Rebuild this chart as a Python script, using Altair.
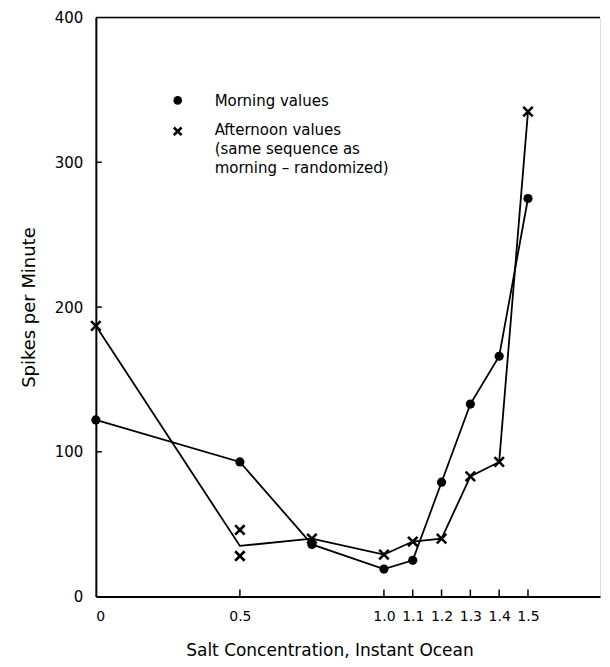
import altair as alt
import pandas as pd

# ---- data ----
x_morning = [0, 0.5, 0.75, 1.0, 1.1, 1.2, 1.3, 1.4, 1.5]
morning = [122, 93, 36, 19, 25, 79, 133, 166, 275]

x_aft_pts = [0, 0.5, 0.5, 0.75, 1.0, 1.1, 1.2, 1.3, 1.4, 1.5]
aft_pts = [187, 46, 28, 40, 29, 38, 40, 83, 93, 335]

x_aft_line = [0, 0.5, 0.75, 1.0, 1.1, 1.2, 1.3, 1.4, 1.5]
aft_line = [187, 35, 40, 29, 38, 40, 83, 93, 335]

x_tick_values = [0, 0.5, 1.0, 1.1, 1.2, 1.3, 1.4, 1.5]
y_tick_values = [0, 100, 200, 300, 400]

x_title = "Salt Concentration,  Instant Ocean"
y_title = "Spikes  per  Minute"
legend_morning = "Morning values"
legend_afternoon = "Afternoon values\n(same sequence as\n morning – randomized)"

# ---- layout ----
W, H = 505, 580
FONT = "DejaVu Sans"
XDOM = [0, 1.75]
YDOM = [0, 400]

xs = alt.Scale(domain=XDOM, nice=False, zero=False)
ys = alt.Scale(domain=YDOM, nice=False)

x_axis = alt.Axis(values=x_tick_values, labelExpr="datum.value == 0 ? '0' : format(datum.value, '.1f')",
                  ticks=False, grid=False, labelPadding=13, labelOverlap=False,
                  labelFontSize=14, titleFontSize=17, titleFontWeight="normal",
                  titlePadding=19, titleX=234, domainWidth=2, domainColor="black",
                  labelColor="black", titleColor="black", labelFont=FONT, titleFont=FONT)
y_axis = alt.Axis(values=y_tick_values, ticks=False, grid=False, labelPadding=13,
                  labelFontSize=15, titleFontSize=18, titleFontWeight="normal",
                  titlePadding=16, domainWidth=2, domainColor="black",
                  labelColor="black", titleColor="black", labelFont=FONT, titleFont=FONT)

X = alt.X("x:Q", scale=xs, axis=x_axis, title=x_title)
Y = alt.Y("y:Q", scale=ys, axis=y_axis, title=y_title)

df_m = pd.DataFrame({"x": x_morning, "y": morning})
df_ap = pd.DataFrame({"x": x_aft_pts, "y": aft_pts})
df_al = pd.DataFrame({"x": x_aft_line, "y": aft_line})

line_m = alt.Chart(df_m).mark_line(color="black", strokeWidth=1.8).encode(x=X, y=Y, order="x:Q")
line_a = alt.Chart(df_al).mark_line(color="black", strokeWidth=1.8).encode(x=X, y=Y, order="x:Q")
pts_m = alt.Chart(df_m).mark_point(shape="circle", filled=True, color="black", size=85, opacity=1).encode(x=X, y=Y)
XSHAPE = "M-1,-1L1,1M-1,1L1,-1"
pts_a = alt.Chart(df_ap).mark_point(shape=XSHAPE, filled=False, color="black", size=90,
                                    strokeWidth=2.6, opacity=1).encode(x=X, y=Y)

# top border line
top = alt.Chart(pd.DataFrame({"y": [400]})).mark_rule(color="black", strokeWidth=1.6).encode(
    y=Y, x=alt.value(0), x2=alt.value(W))

# inward tick marks
yt = alt.Chart(pd.DataFrame({"y": y_tick_values[1:-1]})).mark_rule(color="black", strokeWidth=1.5).encode(
    y=Y, x=alt.value(0), x2=alt.value(6))
xt = alt.Chart(pd.DataFrame({"x": x_tick_values[1:]})).mark_rule(color="black", strokeWidth=1.5).encode(
    x=X, y=alt.value(H), y2=alt.value(H - 7))

# in-plot legend
leg_dot = alt.Chart(pd.DataFrame({"k": [0]})).mark_point(shape="circle", filled=True, color="black",
                                                         size=75, opacity=1).encode(
    x=alt.value(82), y=alt.value(83))
leg_x = alt.Chart(pd.DataFrame({"k": [0]})).mark_point(shape=XSHAPE, filled=False, color="black",
                                                       size=60, strokeWidth=2.6, opacity=1).encode(
    x=alt.value(82), y=alt.value(114))
leg_t1 = alt.Chart(pd.DataFrame({"t": [legend_morning]})).mark_text(
    align="left", baseline="middle", font=FONT, fontSize=15, color="black").encode(
    text="t:N", x=alt.value(119), y=alt.value(84))
leg_t2 = alt.Chart(pd.DataFrame({"t": [legend_afternoon]})).mark_text(
    align="left", baseline="top", font=FONT, fontSize=15, color="black",
    lineBreak="\n", lineHeight=19).encode(
    text="t:N", x=alt.value(119), y=alt.value(106))

chart = alt.layer(line_m, line_a, top, yt, xt, pts_m, pts_a, leg_dot, leg_x, leg_t1, leg_t2).properties(
    width=W, height=H,
    autosize=alt.AutoSizeParams(type="none"),
    padding={"left": 88, "top": 9, "right": 2, "bottom": 62},
).configure_view(stroke=None).configure(background="white")

chart.save("out.html", embed_options={"renderer": "svg", "actions": False})
